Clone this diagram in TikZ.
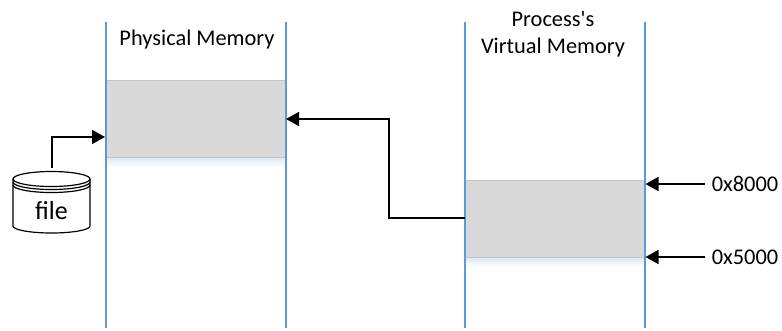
\documentclass[tikz,border=0pt]{standalone}
\usepackage{fontspec}
\setmainfont{Carlito}[Ligatures=TeXOff]
\usetikzlibrary{arrows.meta,positioning}
\definecolor{wallblue}{HTML}{5B9BD5}
\definecolor{blockgray}{HTML}{D9D9D9}
\definecolor{glow}{HTML}{DCE8F5}
\tikzset{
  wall/.style={draw=wallblue,line width=2pt},
  block/.style={draw=blockgray!90!black,line width=.7pt,fill=blockgray,minimum width=179pt,minimum height=77pt,inner sep=0pt,anchor=north west},
  halo/.style={top color=glow,bottom color=white,draw=none,minimum width=179pt,minimum height=9pt,inner sep=0pt,anchor=north west},
  conn/.style={draw=black,line width=1.6pt,-{Triangle[length=13pt,width=14pt]}},
  lbl/.style={font=\fontsize{22.4}{27}\selectfont,align=center,inner sep=0pt},
  cyl/.style={draw=black,line width=1.2pt,fill=white}
}
\begin{document}
\begin{tikzpicture}[x=1pt,y=-1pt]
\useasboundingbox (0,0) rectangle (782,330);
% shadows
\node[halo] at (106,157.5) {};
\node[halo] at (465,257.5) {};
% blocks
\node[block] (pm) at (106,80) {};
\node[block] (vm) at (465,180) {};
% walls
\coordinate (a1) at (105.5,22); \coordinate (a2) at (105.5,328);
\coordinate (b1) at (285.5,22); \coordinate (b2) at (285.5,328);
\coordinate (c1) at (464.5,22); \coordinate (c2) at (464.5,328);
\coordinate (d1) at (644.5,22); \coordinate (d2) at (644.5,328);
\draw[wall] (a1)--(a2); \draw[wall] (b1)--(b2); \draw[wall] (c1)--(c2); \draw[wall] (d1)--(d2);
% cylinder
\draw[cyl] (13,179) -- (13,226) arc[start angle=180,end angle=0,x radius=38.5,y radius=7] -- (90,179);
\draw[cyl] (51.5,179) ellipse[x radius=38.5,y radius=7.5];
\draw[cyl,fill=none] (13,182) arc[start angle=180,end angle=0,x radius=38.5,y radius=7.5];
\draw[cyl,fill=none] (13,185) arc[start angle=180,end angle=0,x radius=38.5,y radius=7.5];
\node[lbl,font=\fontsize{26}{30}\selectfont] (file) at (51.5,210.5) {file};
\coordinate (filetop) at (52,168);
% labels
\node[lbl] (pmt) at (197,39.5) {Physical Memory};
\node[lbl] (vmt) at (553,34.5) {Process's\\Virtual Memory};
\node[lbl] (hi) at (745,184) {0x8000};
\node[lbl] (lo) at (745,257) {0x5000};
% connectors
\coordinate (pmin) at (105,137);
\draw[conn] (filetop) |- (pmin);
\coordinate (vmout) at (465,218);
\coordinate (pmr) at (286,119);
\draw[conn] (vmout) -- (389,218) -- (389,119) -- (pmr);
\coordinate (hif) at (705,184); \coordinate (hit) at (645.5,184);
\coordinate (lof) at (705,257); \coordinate (lot) at (645.5,257);
\draw[conn] (hif) -- (hit);
\draw[conn] (lof) -- (lot);
\end{tikzpicture}
\end{document}
